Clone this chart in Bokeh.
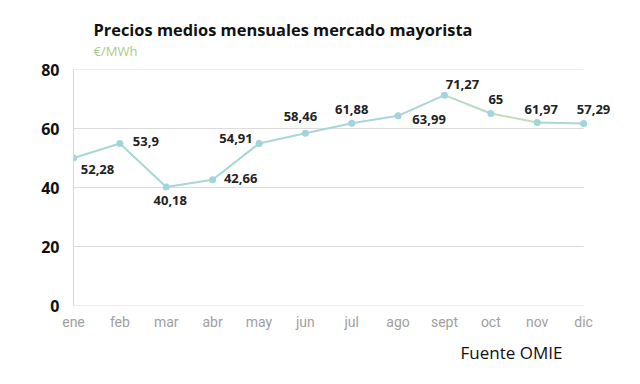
from bokeh.plotting import figure
from bokeh.models import Title, FixedTicker, ColumnDataSource
from bokeh.core.properties import value
from bokeh.embed import file_html
from bokeh.resources import INLINE

months = ["ene", "feb", "mar", "abr", "may", "jun", "jul", "ago", "sept", "oct", "nov", "dic"]
prices = [50.0, 54.9, 40.2, 42.6, 54.9, 58.4, 61.8, 64.3, 71.3, 65.1, 62.0, 61.7]
price_labels = ["52,28", "53,9", "40,18", "42,66", "54,91", "58,46", "61,88",
                "63,99", "71,27", "65", "61,97", "57,29"]
y_ticks = [0, 20, 40, 60, 80]

# label placement (pixels, screen direction)
lab_dx = [24, 26, 4, 28, -23, -5, 0, 31, 18, 5, 4, 10]
lab_dy = [11, -2, 14, -1, -5, -17, -14, 4, -11, -14, -13, -14]

xs = list(range(len(months)))

p = figure(width=640, height=384, output_backend="svg", toolbar_location=None,
           x_range=(0, 11.71), y_range=(0, 80),
           min_border_left=73, min_border_right=24, min_border_top=69, min_border_bottom=79)
p.outline_line_color = None
p.background_fill_color = "white"
p.title.text = ""

# axes
p.yaxis.ticker = FixedTicker(ticks=y_ticks)
p.yaxis.major_label_text_font = "Open Sans"
p.yaxis.major_label_text_font_style = "bold"
p.yaxis.major_label_text_font_size = "16px"
p.yaxis.major_label_text_color = "#111111"
p.yaxis.major_tick_line_color = None
p.yaxis.minor_tick_line_color = None
p.yaxis.axis_line_color = "#d6d6d6"
p.yaxis.major_label_standoff = 8

p.xaxis.ticker = FixedTicker(ticks=xs)
p.xaxis.major_label_overrides = {i: m for i, m in enumerate(months)}
p.xaxis.major_label_text_font = "Roboto"
p.xaxis.major_label_text_font_style = "normal"
p.xaxis.major_label_text_font_size = "14px"
p.xaxis.major_label_text_color = "#a0a0a0"
p.xaxis.major_tick_line_color = None
p.xaxis.minor_tick_line_color = None
p.xaxis.axis_line_color = None
p.xaxis.major_label_standoff = 2

p.xgrid.grid_line_color = None
p.ygrid.grid_line_color = None
# horizontal gridlines spanning first to last month
p.segment(x0=[xs[0]] * len(y_ticks), y0=y_ticks, x1=[xs[-1]] * len(y_ticks), y1=y_ticks,
          line_color="#dcdcdc", line_width=1)

seg_colors = ["#a9d7d6"] * 8 + ["#b9d9c6", "#c6dcb4", "#a9d7d6"]
p.segment(x0=xs[:-1], y0=prices[:-1], x1=xs[1:], y1=prices[1:],
          line_color=seg_colors, line_width=2)
p.scatter(xs, prices, size=7, fill_color="#a2d4dc", line_color=None)

src = ColumnDataSource(dict(x=xs, y=prices, t=price_labels, dx=lab_dx, dy=lab_dy))
p.text(x="x", y="y", text="t", x_offset="dx", y_offset="dy", source=src,
       text_align="center", text_baseline="middle",
       text_font=value("Open Sans"), text_font_style="bold",
       text_font_size="13px", text_color="#222222")

p.add_layout(Title(text="€/MWh", text_font="Open Sans", text_font_style="normal",
                   text_font_size="13px", text_color="#a9cc8c", align="left",
                   offset=20, standoff=19, text_line_height=0.5), "above")
p.add_layout(Title(text="Precios medios mensuales mercado mayorista",
                   text_font="Open Sans", text_font_style="bold", text_font_size="16.4px",
                   text_color="#111111", align="left", offset=20, standoff=-21), "above")
p.add_layout(Title(text="Fuente OMIE", text_font="Open Sans", text_font_style="normal",
                   text_font_size="17px", text_color="#111111", align="left",
                   offset=387, standoff=12), "below")

open("out.html", "w").write(file_html(p, INLINE))
